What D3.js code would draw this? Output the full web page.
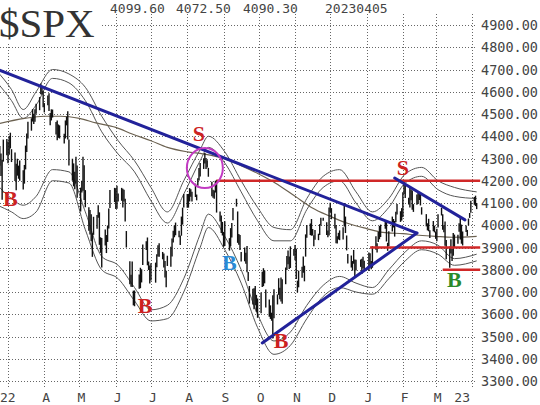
<!DOCTYPE html>
<html><head><meta charset="utf-8">
<script src="https://cdn.jsdelivr.net/npm/d3@7"></script>
<style>body{margin:0;background:#fff}svg{display:block}</style>
</head><body><svg id="c" width="540" height="405"></svg>
<script>
const titleText = "$SPX";
const headerValues = ["4099.60", "4072.50", "4090.30", "20230405"];
const yTicks = [3300,3400,3500,3600,3700,3800,3900,4000,4100,4200,4300,4400,4500,4600,4700,4800,4900];
const monthTicks = ["2022-03-01","2022-04-01","2022-05-01","2022-06-01","2022-07-01","2022-08-01","2022-09-01","2022-10-01","2022-11-01","2022-12-01","2023-01-01","2023-02-01","2023-03-01","2023-04-01"];
const monthLabels = ["22","A","M","J","J","A","S","O","N","D","J","F","M","23"];
const firstDay = "2022-02-22", lastDay = "2023-04-05";
const holidays = ["2022-04-15","2022-05-30","2022-06-20","2022-07-04","2022-09-05","2022-11-24","2022-12-26","2023-01-02","2023-01-16","2023-02-20"];

// daily highs / lows, trading days from 2022-02-22 to 2023-04-05
const highs = [
4356,4322,4294,4385,4388,
4375,4401,4416,4342, 4327,4276,4299,4268,4291, 4247,4271,4358,4412,4465, 4481,4522,4501,4521,4546, 4576,4637,4627,4603,
4549, 4583,4593,4504,4521,4520, 4464,4471,4453,4449, 4411,4471,4488,4512,4385, 4299,4278,4240,4308,4269,
4169,4200,4308,4270,4158, 4081,4068,4049,3964,4038, 4046,4090,4058,3946,3943, 3981,3956,3999,4075,4158, 4168,
4166,4177,4143, 4168,4164,4160,4119,3974, 3838,3778,3837,3706,3707, 3779,3809,3802,3913, 3928,3945,3837,3819,
3829, 3832,3870,3910,3919, 3880,3873,3839,3796,3863, 3903,3940,3975,3999,4012, 3975,3954,4039,4079,4141,
4140,4141,4167,4162,4151, 4187,4138,4211,4257,4280, 4301,4325,4302,4292,4258, 4195,4159,4156,4200,4204, 4062,4044,4015,
3970,4018, 3942,3987,4010,4077, 4119,4062,3961,3956,3880, 3900,3876,3907,3790,3727, 3715,3717,3727,3687,3671,
3698,3791,3807,3797,3711, 3666,3640,3607,3685,3712, 3689,3762,3719,3765,3757, 3810,3862,3886,3859,3905, 3893,
3911,3894,3751,3796, 3814,3860,3818,3959,4001, 4008,4028,3983,3955,3979, 3962,4005,4034,4034, 4013,3976,4080,
4101,4077, 4052,4001,3951,3966,3977, 3991,4100,4039,3954,3871, 3864,3839,3889,3846,3845, 3846,3849,3858,3840,
3878,3874,3839,3906, 3951,3919,3970,3997,4003, 4015,4014,3921,3973, 4039,4028,4019,4061,4095, 4063,4077,
4148,4195,4183, 4124,4176,4161,4156,4095, 4138,4148,4148,4136,4081, 4050,4009,4029,3978, 4019,3998,
3972,3984,4049, 4078,4050,4000,4017,3934, 3905,3937,3894,3965,3958, 3957,4009,4039,4003,3972, 3999,3979,4030,4055,4110,
4127,4133,4100];
const lows = [
4267,4221,4115,4286,4315,
4279,4317,4345,4284, 4199,4157,4223,4209,4200, 4161,4187,4251,4329,4390, 4425,4466,4455,4465,4501, 4517,4589,4588,4530,
4507, 4539,4514,4450,4471,4484, 4408,4382,4393,4390, 4367,4390,4449,4385,4268, 4200,4175,4162,4188,4124,
4062,4147,4155,4114,4081, 3975,3958,3928,3858,3957, 3984,4034,3912,3876,3810, 3909,3875,3925,3985,4077, 4104,
4073,4074,4107, 4110,4080,4107,4017,3900, 3735,3724,3723,3640,3636, 3715,3717,3743,3821, 3889,3820,3799,3738,
3752, 3742,3811,3859,3858, 3847,3810,3765,3721,3817, 3814,3860,3922,3946,3955, 3946,3911,3953,4003,4080,
4079,4079,4107,4128,4107, 4127,4112,4177,4201,4219, 4253,4277,4253,4260,4218, 4130,4124,4119,4147,4057, 4017,3965,3954,
3903,3907, 3886,3906,3945,4023, 4084,3921,3912,3889,3837, 3838,3827,3789,3749,3648, 3644,3623,3640,3611,3584,
3604,3723,3726,3739,3630, 3589,3579,3571,3491,3582, 3644,3687,3667,3657,3647, 3735,3799,3825,3803,3808, 3863,
3843,3758,3698,3721, 3764,3786,3748,3859,3944, 3956,3953,3954,3906,3935, 3933,3956,3999,4020, 3956,3946,3954,
4058,4027, 3985,3919,3918,3936,3933, 3936,3994,3965,3887,3828, 3810,3796,3827,3765,3797, 3813,3781,3806,3800,
3794,3815,3802,3809, 3890,3877,3925,3937,3947, 3984,3927,3885,3907, 3972,3990,3949,4013,4048, 4015,4021,
4037,4141,4123, 4093,4080,4112,4070,4060, 4092,4095,4113,4089,4048, 3995,3977,3973,3943, 3973,3968,
3939,3928,3990, 4044,3980,3969,3908,3847, 3809,3873,3839,3863,3902, 3917,3971,3936,3917,3909, 3970,3952,3999,4033,4056,
4092,4086,4072.5];

// envelope lines
const bandDates = ["2022-02-20","2022-03-04","2022-03-14","2022-03-25","2022-04-08","2022-04-22","2022-05-06","2022-05-20","2022-06-03","2022-06-17","2022-07-01","2022-07-15","2022-07-29","2022-08-12","2022-08-19","2022-09-02","2022-09-16","2022-09-30","2022-10-14","2022-10-28","2022-11-11","2022-11-25","2022-12-09","2022-12-23","2023-01-06","2023-01-20","2023-02-03","2023-02-17","2023-03-03","2023-03-17","2023-04-05"];
const upperOuter = [4690,4610,4520,4600,4700,4680,4620,4490,4380,4290,4170,4060,4200,4340,4400,4330,4200,4080,3990,3980,4120,4220,4250,4150,4060,4120,4230,4260,4200,4170,4150];
const upperInner = [4640,4560,4480,4540,4660,4640,4560,4420,4320,4240,4110,4010,4140,4290,4350,4280,4150,4020,3930,3930,4070,4170,4200,4100,4020,4080,4190,4220,4160,4130,4120];
const lowerInner = [4180,4120,4090,4130,4250,4240,4060,3860,3820,3720,3620,3640,3760,3960,4050,3950,3800,3600,3480,3520,3640,3730,3770,3740,3720,3800,3880,3930,3910,3850,3870];
const lowerOuter = [4090,4060,4030,4060,4200,4190,3980,3800,3760,3660,3570,3580,3700,3900,3990,3890,3740,3540,3420,3460,3580,3680,3720,3700,3690,3760,3840,3890,3870,3820,3840];
const ma200Dates = ["2022-02-20","2022-03-15","2022-04-01","2022-04-15","2022-05-01","2022-05-15","2022-06-01","2022-06-15","2022-07-01","2022-07-15","2022-08-01","2022-08-15","2022-09-01","2022-09-15","2022-10-01","2022-10-15","2022-11-01","2022-11-15","2022-12-01","2022-12-15","2023-01-01","2023-01-15","2023-02-01","2023-02-15","2023-03-01","2023-03-15","2023-04-05"];
const ma200 = [4455,4480,4490,4490,4480,4460,4440,4410,4380,4350,4330,4320,4300,4270,4230,4190,4130,4080,4040,4010,3985,3968,3962,3955,3950,3946,3950];

// annotations
const blueLines = [[["2022-02-21",4698],["2023-02-13",3965]],[["2022-10-04",3471],["2023-02-13",3965]],[["2023-01-25",4212],["2023-03-26",4024]]];
const redLevels = [4200, 3900, 3800];
const redStarts = ["2022-08-26","2023-01-04","2023-03-07"];
const redEnd = "2023-04-08";
const circleCenter = ["2022-08-16", 4257];
const signalText = ["S","S","B","B","B","B","B"];
const signalDates = ["2022-08-11","2023-02-01","2022-03-03","2022-06-26","2022-09-06","2022-10-20","2023-03-17"];
const signalValues = [4415,4262,4122,3642,3835,3484,3758];
const signalColors = ["#cc2222","#cc2222","#cc2222","#cc2222","#2a8ad4","#cc2222","#2a8a2a"];

const P = d3.timeParse("%Y-%m-%d");
const F = d3.timeFormat("%Y-%m-%d");
const svg = d3.select("#c");
const x = d3.scaleTime().domain([P("2022-03-01"), P("2023-04-01")]).range([8, 472]);
const y = d3.scaleLinear().domain([3300, 4900]).range([381, 25]);

// trading days
const hol = new Set(holidays);
const days = [];
for (let d = P(firstDay); d <= P(lastDay); d = d3.timeDay.offset(d, 1)) {
  const wd = d.getDay();
  if (wd !== 0 && wd !== 6 && !hol.has(F(d))) days.push(d);
}
const n = Math.min(days.length, highs.length, lows.length);
const bars = d3.range(n).map(i => ({d: days[i], h: highs[i], l: lows[i]}));

const mono = "'DejaVu Sans Mono', monospace";
const grid = svg.append("g").attr("stroke", "#666").attr("stroke-width", 1).attr("stroke-dasharray", "1,2");
grid.selectAll("line.h").data(yTicks).join("line")
  .attr("x1", 0).attr("x2", 475).attr("y1", d => Math.round(y(d)) + 0.5).attr("y2", d => Math.round(y(d)) + 0.5);
grid.selectAll("line.v").data(monthTicks).join("line")
  .attr("x1", d => Math.round(x(P(d))) + 0.5).attr("x2", d => Math.round(x(P(d))) + 0.5).attr("y1", 14).attr("y2", 389);

// title box
svg.append("rect").attr("x", 0).attr("y", 0).attr("width", 102).attr("height", 42).attr("fill", "#fff");
svg.append("text").attr("x", -1).attr("y", 37).text(titleText)
  .attr("font-family", "'Liberation Serif', serif").attr("font-size", 41).attr("fill", "#333");
svg.selectAll("text.hdr").data(headerValues).join("text")
  .attr("x", (d, i) => [110, 176, 243, 325][i]).attr("y", 13).text(d => d)
  .attr("font-family", mono).attr("font-size", 13).attr("fill", "#444");

svg.selectAll("text.yl").data(yTicks).join("text")
  .attr("x", 481).attr("y", d => y(d) + 5).text(d => d3.format(".2f")(d))
  .attr("font-family", mono).attr("font-size", 13.5).attr("fill", "#444");
svg.selectAll("text.xl").data(monthTicks).join("text")
  .attr("x", (d, i) => i === 0 ? 0 : (i === monthTicks.length - 1 ? 470 : x(P(d)) - 2))
  .attr("text-anchor", (d, i) => i === monthTicks.length - 1 ? "end" : "start")
  .attr("y", 402).text((d, i) => monthLabels[i])
  .attr("font-family", mono).attr("font-size", 13).attr("fill", "#444");

// envelopes
const line = d3.line().curve(d3.curveMonotoneX);
const bandPts = arr => arr.map((v, i) => [x(P(bandDates[i])), y(v)]);
const lg = svg.append("g").attr("fill", "none");
[upperOuter, upperInner, lowerInner, lowerOuter].forEach(a => {
  lg.append("path").attr("d", line(bandPts(a))).attr("stroke", "#555").attr("stroke-width", 1);
});
lg.append("path").attr("d", line(ma200.map((v, i) => [x(P(ma200Dates[i])), y(v)])))
  .attr("stroke", "#6b6150").attr("stroke-width", 1.2);

// price bars
svg.append("g").attr("stroke", "#111").attr("stroke-width", 1.4)
  .selectAll("line").data(bars).join("line")
  .attr("x1", d => x(d.d)).attr("x2", d => x(d.d)).attr("y1", d => y(d.h)).attr("y2", d => y(d.l));

// red levels
svg.append("g").attr("stroke", "#d02828").attr("stroke-width", 2.5)
  .selectAll("line").data(redLevels).join("line")
  .attr("x1", (d, i) => x(P(redStarts[i]))).attr("x2", x(P(redEnd)))
  .attr("y1", d => y(d)).attr("y2", d => y(d));

// blue trendlines
svg.append("g").attr("stroke", "#22229a").attr("stroke-width", 3).attr("stroke-linecap", "round")
  .selectAll("line").data(blueLines).join("line")
  .attr("x1", d => x(P(d[0][0]))).attr("y1", d => y(d[0][1]))
  .attr("x2", d => x(P(d[1][0]))).attr("y2", d => y(d[1][1]));

// circle
svg.append("ellipse").attr("cx", x(P(circleCenter[0]))).attr("cy", y(circleCenter[1]))
  .attr("rx", 18).attr("ry", 20).attr("fill", "none").attr("stroke", "#c23ac2").attr("stroke-width", 2);

// signals
svg.selectAll("text.sig").data(signalText).join("text")
  .attr("x", (d, i) => x(P(signalDates[i]))).attr("y", (d, i) => y(signalValues[i]) + 8)
  .attr("text-anchor", "middle").text(d => d)
  .attr("font-family", "'Liberation Serif', serif").attr("font-weight", "bold").attr("font-size", 22)
  .attr("fill", (d, i) => signalColors[i]);
</script></body></html>
